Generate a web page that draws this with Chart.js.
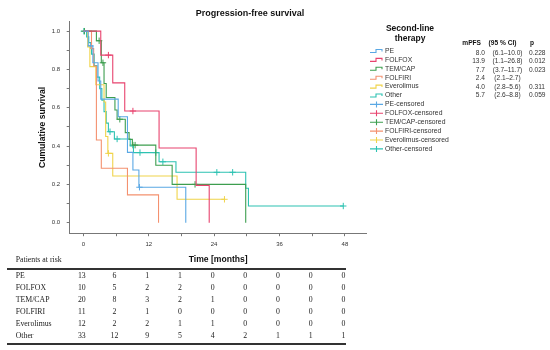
<!DOCTYPE html>
<html>
<head>
<meta charset="utf-8">
<script src="https://cdn.jsdelivr.net/npm/chart.js@4.4.0/dist/chart.umd.min.js"></script>
<style>
  html, body { margin: 0; padding: 0; background: #fff; }
  #wrap { position: relative; width: 550px; height: 350px; overflow: hidden; }
  #km { position: absolute; left: 0; top: 0; }
  #risk { position: absolute; left: 0; top: 0; width: 550px; height: 350px;
          font-family: "Liberation Serif", "DejaVu Serif", serif; font-size: 7.8px; color: #222; }
  #risk span { position: absolute; white-space: nowrap; line-height: 1; transform: translateY(-50%); }
  #risk span.num { transform: translate(-50%, -50%); }
  #risk .rule { position: absolute; left: 7px; width: 339px; height: 2px; background: #333; }
</style>
</head>
<body>
<div id="wrap">
  <canvas id="km" width="550" height="350"></canvas>
  <div id="risk"></div>
</div>
<script>
// groups
const groups = ['PE', 'FOLFOX', 'TEM/CAP', 'FOLFIRI', 'Everolimus', 'Other']

// Kaplan-Meier steps (time in months, survival after the step)
const peT = [0, 0.9, 1.75, 2.7, 3.2, 6.4, 8.1, 9.1, 10.2, 18.8]
const peS = [1, 0.923, 0.835, 0.74, 0.645, 0.553, 0.367, 0.275, 0.185, 0]
const peCensT = [1.3, 10.3]
const peCensS = [0.923, 0.185]

const folfoxT = [0, 3.2, 5.4, 7.6, 13.9, 20.7, 23.1]
const folfoxS = [1, 0.875, 0.73, 0.583, 0.39, 0.195, 0]
const folfoxCensT = [4.6, 9.1]
const folfoxCensS = [0.875, 0.583]

const temcapT = [0, 2.4, 3.3, 3.8, 4.2, 5.8, 6.2, 7.7, 8.4, 9.0, 13.3, 16.3, 29.8]
const temcapS = [1, 0.95, 0.835, 0.727, 0.654, 0.588, 0.54, 0.47, 0.435, 0.405, 0.30, 0.20, 0]
const temcapCensT = [0.2, 2.9, 3.6, 6.7, 9.1, 9.5, 20.5]
const temcapCensS = [1, 0.95, 0.835, 0.54, 0.405, 0.405, 0.20]

const folfiriT = [0, 1.5, 1.9, 2.4, 3.3, 8.1, 13.8]
const folfiriS = [1, 0.909, 0.818, 0.432, 0.284, 0.145, 0]
const folfiriCensT = []
const folfiriCensS = []

const everoT = [0, 0.8, 1.2, 2.3, 3.8, 4.1, 4.5, 5.4, 17.2, 25.9]
const everoS = [1, 0.917, 0.815, 0.72, 0.63, 0.45, 0.362, 0.244, 0.122, 0.122]
const everoCensT = [4.6, 25.9]
const everoCensS = [0.362, 0.122]

const otherT = [0, 0.6, 1.0, 1.5, 2.0, 2.5, 3.0, 3.4, 3.8, 4.2, 4.6, 5.7, 8.6, 9.2, 13.9, 17.0, 29.8, 30.3, 47.7]
const otherS = [1, 0.97, 0.94, 0.88, 0.82, 0.76, 0.70, 0.64, 0.58, 0.52, 0.475, 0.437, 0.40, 0.366, 0.318, 0.263, 0.18, 0.087, 0.087]
const otherCensT = [0.1, 4.9, 6.2, 10.4, 13.3, 14.6, 24.5, 27.4, 47.7]
const otherCensS = [1, 0.475, 0.437, 0.366, 0.366, 0.318, 0.263, 0.263, 0.087]

// median PFS table
const mpfs = ['8.0', '13.9', '7.7', '2.4', '4.0', '5.7']
const mpfsCI = ['(6.1–10.0)', '(1.1–26.8)', '(3.7–11.7)', '(2.1–2.7)', '(2.8–5.6)', '(2.6–8.8)']
const mpfsP = ['0.228', '0.012', '0.023', '', '0.311', '0.059']

// patients at risk
const riskTimes = [0, 6, 12, 18, 24, 30, 36, 42, 48]
const riskPE = [13, 6, 1, 1, 0, 0, 0, 0, 0]
const riskFOLFOX = [10, 5, 2, 2, 0, 0, 0, 0, 0]
const riskTEMCAP = [20, 8, 3, 2, 1, 0, 0, 0, 0]
const riskFOLFIRI = [11, 2, 1, 0, 0, 0, 0, 0, 0]
const riskEvero = [12, 2, 2, 1, 1, 0, 0, 0, 0]
const riskOther = [33, 12, 9, 5, 4, 2, 1, 1, 1]

// axis ticks
const xTickVals = [0, 6, 12, 18, 24, 30, 36, 42, 48]
const yTickVals = [0, 0.1, 0.2, 0.3, 0.4, 0.5, 0.6, 0.7, 0.8, 0.9, 1.0]

const colors = ['#5aa8e4', '#e8436e', '#3d9e4f', '#f4916f', '#f0d44a', '#2dc2b2']
const FONT = '"Liberation Sans", Arial, sans-serif'

const curves = [
  [peT, peS, peCensT, peCensS],
  [folfoxT, folfoxS, folfoxCensT, folfoxCensS],
  [temcapT, temcapS, temcapCensT, temcapCensS],
  [folfiriT, folfiriS, folfiriCensT, folfiriCensS],
  [everoT, everoS, everoCensT, everoCensS],
  [otherT, otherS, otherCensT, otherCensS]
]

const datasets = []
curves.forEach((c, i) => {
  datasets.push({
    label: groups[i],
    data: c[0].map((t, k) => ({ x: t, y: c[1][k] })),
    stepped: true,
    borderColor: colors[i],
    borderWidth: 1.1,
    pointRadius: 0,
    fill: false
  })
})
curves.forEach((c, i) => {
  datasets.push({
    label: groups[i] + '-censored',
    data: c[2].map((t, k) => ({ x: t, y: c[3][k] })),
    showLine: false,
    pointStyle: 'cross',
    pointRadius: 3.2,
    pointBorderWidth: 1,
    borderColor: colors[i],
    backgroundColor: colors[i]
  })
})

// title, legend and mPFS numbers drawn next to the plot
const kmLegend = {
  id: 'kmLegend',
  afterDraw(chart) {
    const ctx = chart.ctx
    ctx.save()
    ctx.textBaseline = 'middle'
    ctx.fillStyle = '#111'
    ctx.textAlign = 'center'
    ctx.font = 'bold 9px ' + FONT
    ctx.fillText('Progression-free survival', 250, 14)
    ctx.font = 'bold 8.5px ' + FONT
    ctx.fillText('Second-line', 410, 29)
    ctx.fillText('therapy', 410, 38.3)

    ctx.textAlign = 'left'
    ctx.font = '6.8px ' + FONT
    groups.forEach((g, i) => {
      const y = 51 + i * 8.9
      ctx.strokeStyle = colors[i]
      ctx.lineWidth = 1.1
      ctx.beginPath()
      ctx.moveTo(370, y + 1.5)
      ctx.lineTo(376, y + 1.5)
      ctx.lineTo(376, y - 1.5)
      ctx.lineTo(382, y - 1.5)
      ctx.lineTo(382, y + 0.5)
      ctx.stroke()
      ctx.fillStyle = '#333'
      ctx.fillText(g, 385, y)
    })
    groups.forEach((g, i) => {
      const y = 51 + (i + 6) * 8.9
      ctx.strokeStyle = colors[i]
      ctx.lineWidth = 1.1
      ctx.beginPath()
      ctx.moveTo(370, y)
      ctx.lineTo(383, y)
      ctx.moveTo(376.5, y - 3)
      ctx.lineTo(376.5, y + 3)
      ctx.stroke()
      ctx.fillStyle = '#333'
      ctx.fillText(g + '-censored', 385, y)
    })

    ctx.fillStyle = '#111'
    ctx.font = 'bold 6.6px ' + FONT
    ctx.textAlign = 'right'
    ctx.fillText('mPFS', 481, 43.3)
    ctx.textAlign = 'center'
    ctx.fillText('(95 % CI)', 502.5, 43.3)
    ctx.fillText('p', 532, 43.3)
    ctx.font = '6.6px ' + FONT
    ctx.fillStyle = '#333'
    mpfs.forEach((m, i) => {
      const y = 53.2 + i * 8.45
      ctx.textAlign = 'right'
      ctx.fillText(m, 485, y)
      ctx.textAlign = 'center'
      ctx.fillText(mpfsCI[i], 507.5, y)
      ctx.textAlign = 'left'
      ctx.fillText(mpfsP[i], 529, y)
    })
    ctx.restore()
  }
}

const chart = new Chart(document.getElementById('km'), {
  type: 'line',
  data: { datasets: datasets },
  options: {
    responsive: false,
    animation: false,
    layout: { padding: { left: 0, top: 21.6, right: 183.3, bottom: 84.8 } },
    plugins: {
      legend: { display: false },
      tooltip: { enabled: false }
    },
    scales: {
      x: {
        type: 'linear',
        min: -2.5,
        max: 52,
        bounds: 'data',
        afterBuildTicks: s => { s.ticks = xTickVals.map(v => ({ value: v })) },
        afterFit: s => { s.height = 32 },
        ticks: {
          autoSkip: false,
          maxRotation: 0,
          padding: 4.5,
          color: '#333',
          font: { family: FONT, size: 6 },
          callback: (v, i) => (i % 2 === 0 ? String(xTickVals[i]) : '')
        },
        grid: { drawOnChartArea: false, drawTicks: true, tickLength: 3, color: '#777' },
        border: { display: true, color: '#777', width: 1 },
        title: {
          display: true,
          text: 'Time [months]',
          color: '#111',
          padding: 0,
          font: { family: FONT, size: 8.6, weight: 'bold' }
        }
      },
      y: {
        min: -0.055,
        max: 1.05,
        bounds: 'data',
        afterBuildTicks: s => { s.ticks = yTickVals.map(v => ({ value: v })) },
        afterFit: s => { s.width = 69.7 },
        ticks: {
          autoSkip: false,
          padding: 6.5,
          color: '#333',
          font: { family: FONT, size: 6 },
          callback: (v, i) => (i % 2 === 0 ? yTickVals[i].toFixed(1) : '')
        },
        grid: { drawOnChartArea: false, drawTicks: true, tickLength: 3, color: '#777' },
        border: { display: true, color: '#777', width: 1 },
        title: {
          display: true,
          text: 'Cumulative survival',
          color: '#111',
          padding: { top: 37.3, bottom: 0 },
          font: { family: FONT, size: 8.6, weight: 'bold' }
        }
      }
    }
  },
  plugins: [kmLegend]
})

// patients-at-risk table, columns under the time axis
const riskRows = [riskPE, riskFOLFOX, riskTEMCAP, riskFOLFIRI, riskEvero, riskOther]
const risk = document.getElementById('risk')
function addText(text, x, y, cls) {
  const s = document.createElement('span')
  s.textContent = text
  s.style.left = x + 'px'
  s.style.top = y + 'px'
  if (cls) s.className = cls
  risk.appendChild(s)
}
function addRule(y) {
  const d = document.createElement('div')
  d.className = 'rule'
  d.style.top = y + 'px'
  risk.appendChild(d)
}
const xScale = chart.scales.x
addText('Patients at risk', 15.7, 260)
addRule(267.5)
addRule(343)
groups.forEach((g, i) => {
  const y = 275.8 + i * 12
  addText(g, 15.7, y)
  riskRows[i].forEach((n, j) => addText(String(n), xScale.getPixelForValue(riskTimes[j]) - 1.5, y, 'num'))
})
</script>
</body>
</html>
